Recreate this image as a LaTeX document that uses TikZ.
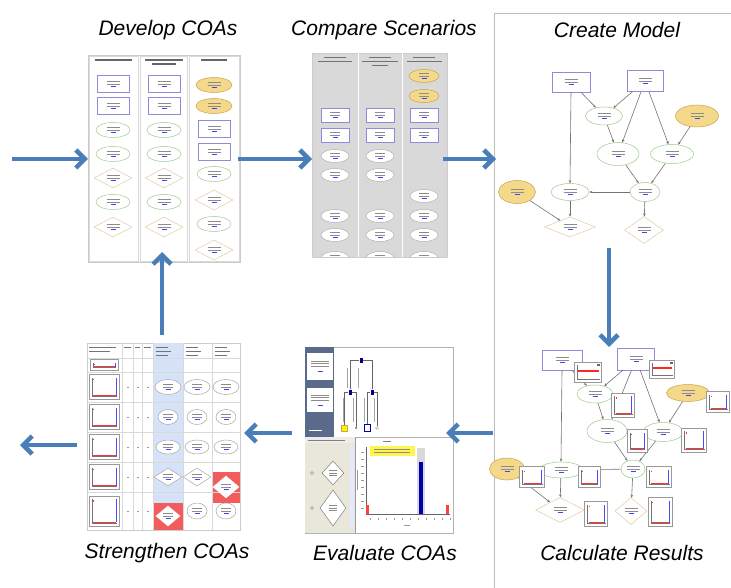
\documentclass[tikz,border=0pt]{standalone}
\usepackage{fontspec}
\setmainfont{Liberation Sans}
\usetikzlibrary{arrows.meta,shapes.geometric}
\definecolor{arrowblue}{HTML}{4A7EBB}
\definecolor{rectblue}{HTML}{8C8CD8}
\definecolor{ellgreen}{HTML}{9CCB8C}
\definecolor{yfill}{HTML}{F5D98A}
\definecolor{yline}{HTML}{C9A24A}
\definecolor{diaedge}{HTML}{E2CBA6}
\definecolor{panelgray}{HTML}{D9D9D9}
\definecolor{slate}{HTML}{5A6A8A}
\definecolor{beige}{HTML}{E9E7DA}
\definecolor{lightblue}{HTML}{D6E2F7}
\definecolor{redfill}{HTML}{F25C5C}
\newcommand\txl[1][13]{\textcolor{black!45}{\rule{#1pt}{0.45pt}}}
\newcommand\txb{\textcolor{blue!75}{\rule{5pt}{0.6pt}}}
\newcommand\nt{\txl\\\txl\\\txb}
\newcommand\ntt{\txl[10]\\\txl[10]\\\txb}
\tikzset{
  title/.style={font=\fontsize{21}{24}\selectfont\itshape, inner sep=0},
  bigarrow/.style={draw=arrowblue, line width=4.5pt, -{Straight Barb[length=9pt,width=18pt]}},
  tiny/.style={font=\fontsize{2}{2.6}\selectfont, align=center, inner sep=0.5pt, line width=0.5pt},
  rb/.style={tiny, rectangle, draw=rectblue, fill=white, minimum width=32, minimum height=17},
  ge/.style={tiny, ellipse, draw=ellgreen, fill=white, minimum width=34, minimum height=15},
  dm/.style={tiny, diamond, aspect=2, draw=diaedge, fill=white, minimum width=38, minimum height=20},
  ye/.style={tiny, ellipse, draw=yline, fill=yfill, minimum width=36, minimum height=15},
  rbs/.style={rb, minimum width=28, minimum height=14},
  ges/.style={tiny, ellipse, draw=black!30, fill=white, minimum width=28, minimum height=13},
  yes/.style={ye, minimum width=30, minimum height=13},
  sge/.style={tiny, ellipse, draw=black!35, fill=white},
  sdm/.style={tiny, diamond, aspect=1.4, draw=black!35, fill=white},
  thumb/.style={draw=black!20, fill=white, inner sep=0},
  hdr/.style={black!60, line width=1.1pt},
  gridline/.style={black!15, line width=0.4pt},
  gedge/.style={draw=black!55, line width=0.6pt, -{Stealth[length=3pt,width=2.5pt]}},
  mchart/.style={draw=black!40, fill=white, inner sep=0, line width=0.4pt, path picture={
    \draw[black!55, line width=0.3pt] ([shift={(3pt,-3pt)}]path picture bounding box.north west) |- ([shift={(-2pt,3pt)}]path picture bounding box.south east);
    \draw[red!80, line width=0.7pt] ([shift={(4pt,4pt)}]path picture bounding box.south west) -- ([shift={(-3pt,4pt)}]path picture bounding box.south east);
    \draw[blue!70, line width=0.5pt] ([shift={(-3pt,4pt)}]path picture bounding box.south east) -- ([shift={(-3pt,-3pt)}]path picture bounding box.north east);
    \fill[red!80] ([shift={(4pt,-4pt)}]path picture bounding box.north west) rectangle ++(1pt,-1.5pt);
  }},
  mchartr/.style={draw=black!40, fill=white, inner sep=0, line width=0.4pt, path picture={
    \draw[black!55, line width=0.3pt] ([shift={(3pt,-3pt)}]path picture bounding box.north west) |- ([shift={(-2pt,3pt)}]path picture bounding box.south east);
    \draw[red!85, line width=1.3pt] ([shift={(3pt,1pt)}]path picture bounding box.west) -- ([shift={(-3pt,1pt)}]path picture bounding box.east);
    \fill[black!60] ([shift={(-5pt,-2pt)}]path picture bounding box.north east) rectangle ++(3pt,-2pt);
  }},
  treenode/.style={fill=blue!55!black, minimum width=3, minimum height=5, inner sep=0},
  treeedge/.style={draw=black!60, line width=0.5pt},
}
\begin{document}
\begin{tikzpicture}[x=1pt,y=-1pt]
\useasboundingbox (0,0) rectangle (731,588);
\fill[white] (0,0) rectangle (731,588);

% panel line
\draw[black!25, line width=0.8pt] (494,588) -- (494,13) -- (731,13);

% titles
\node[title] (t1) at (168,30) {Develop COAs};
\node[title] (t2) at (384,30) {Compare Scenarios};
\node[title] (t3) at (617,30) {Create Model};
\node[title] (t4) at (167,553) {Strengthen COAs};
\node[title] (t5) at (385,553) {Evaluate COAs};
\node[title] (t6) at (622,553) {Calculate Results};

% ---------- Thumbnail 1: Develop COAs ----------
\node[thumb, minimum width=152, minimum height=207, anchor=north west] (th1) at (88,55) {};
\draw[gridline] (89,56) rectangle (138,261);
\draw[gridline] (140,56) rectangle (187,261);
\draw[gridline] (189,56) rectangle (239,261);
\draw[hdr] (95,60) -- (132,60);
\draw[hdr] (145,60) -- (183,60);
\draw[hdr] (152,64) -- (176,64);
\draw[hdr] (201,60) -- (227,60);
\foreach \n/\s/\y in {1/rb/84,2/rb/106,3/ge/130,4/ge/154,5/dm/178,6/ge/202,7/dm/227}{
  \node[\s] (da\n) at (113,\y) {\nt};
  \node[\s] (db\n) at (164,\y) {\nt};
}
\foreach \n/\s/\y in {1/ye/85,2/ye/106,3/rb/129,4/rb/152,5/ge/174,6/dm/200,7/ge/224,8/dm/250}{
  \node[\s] (dc\n) at (214,\y) {\nt};
}

% ---------- Thumbnail 2: Compare Scenarios ----------
\node[draw=black!20, fill=panelgray, minimum width=135, minimum height=204, anchor=north west, inner sep=0] (th2) at (312,53) {};
\draw[white, line width=1pt] (358,53) -- (358,257);
\draw[white, line width=1pt] (402,53) -- (402,257);
\draw[black!55, line width=0.8pt] (324,57) -- (346,57) (318,61) -- (352,61);
\draw[black!55, line width=0.8pt] (369,57) -- (391,57) (362,61) -- (398,61) (372,65) -- (388,65);
\draw[black!55, line width=0.8pt] (413,57) -- (435,57) (407,61) -- (442,61);
\begin{scope}
\clip (312,53) rectangle (447,257);
\foreach \n/\s/\y in {1/rbs/115,2/rbs/135,3/ges/156,4/ges/175,5/ges/216,6/ges/235,7/ges/258}{
  \node[\s] (ca\n) at (335,\y) {\ntt};
  \node[\s] (cb\n) at (380,\y) {\ntt};
}
\foreach \n/\s/\y in {1/yes/76,2/yes/96,3/rbs/115,4/rbs/135,5/ges/196,6/ges/216,7/ges/235,8/ges/258}{
  \node[\s] (cc\n) at (424,\y) {\ntt};
}
\end{scope}

% ---------- Thumbnail 3: Create Model ----------
\node[rb, minimum width=38, minimum height=20] (mA) at (571,82) {\nt};
\node[rb, minimum width=36, minimum height=21] (mB) at (645,81) {\nt};
\node[ge, minimum width=37, minimum height=18] (mC) at (604,116) {\nt};
\node[ye, minimum width=43, minimum height=22] (mD) at (697,116) {\nt};
\node[ge, minimum width=42, minimum height=23] (mE) at (618,154) {\nt};
\node[ge, minimum width=43, minimum height=19] (mF) at (672,154) {\nt};
\node[ge, minimum width=38, minimum height=17] (mG) at (570,192) {\nt};
\node[ge, minimum width=30, minimum height=19] (mH) at (645,192) {\nt};
\node[ye, minimum width=37, minimum height=23] (mI) at (517,192) {\nt};
\node[dm, minimum width=51, minimum height=20] (mJ) at (570,227) {\nt};
\node[dm, minimum width=39, minimum height=27] (mK) at (644,230) {\nt};
\draw[gedge] (mA) -- (mC);
\draw[gedge] (mB) -- (mC);
\draw[gedge] (mB) -- (mE);
\draw[gedge] (mB) -- (mF);
\draw[gedge] (mA.south) -- (mG.north);
\draw[gedge] (mC) -- (mE);
\draw[gedge] (mD) -- (mF);
\draw[gedge] (mE) -- (mH);
\draw[gedge] (mF) -- (mH);
\draw[gedge] (mH) -- (mG);
\draw[gedge] (mG) -- (mJ);
\draw[gedge] (mI) -- (mJ);
\draw[gedge] (mH) -- (mK);

% ---------- Thumbnail 4: Calculate Results ----------
\node[rb, minimum width=40, minimum height=20] (rA) at (562,360) {\nt};
\node[rb, minimum width=37, minimum height=22] (rB) at (636,359) {\nt};
\node[ge, minimum width=36, minimum height=18] (rC) at (595,394) {\nt};
\node[ye, minimum width=43, minimum height=17] (rD) at (688,393) {\nt};
\node[ge, minimum width=40, minimum height=23] (rE) at (607,431) {\nt};
\node[ge, minimum width=40, minimum height=19] (rF) at (663,432) {\nt};
\node[ge, minimum width=44, minimum height=16] (rG) at (561,470) {\nt};
\node[ge, minimum width=24, minimum height=18] (rH) at (633,469) {\nt};
\node[ye, minimum width=35, minimum height=22] (rI) at (507,469) {\nt};
\node[dm, minimum width=49, minimum height=25] (rJ) at (560,510) {\nt};
\node[dm, minimum width=32, minimum height=27] (rK) at (631,511) {\nt};
\draw[gedge] (rA) -- (rC);
\draw[gedge] (rB) -- (rC);
\draw[gedge] (rB) -- (rE);
\draw[gedge] (rB) -- (rF);
\draw[gedge] (rA.south) -- (rG.north);
\draw[gedge] (rC) -- (rE);
\draw[gedge] (rD) -- (rF);
\draw[gedge] (rE) -- (rH);
\draw[gedge] (rF) -- (rH);
\draw[gedge] (rH) -- (rG);
\draw[gedge] (rG) -- (rJ);
\draw[gedge] (rI) -- (rJ);
\draw[gedge] (rH) -- (rK);
\node[mchartr, minimum width=27, minimum height=20] (qA) at (588,372) {};
\node[mchartr, minimum width=25, minimum height=18] (qB) at (662,369) {};
\node[mchart, minimum width=23, minimum height=24] (qC) at (623,405) {};
\node[mchart, minimum width=23, minimum height=21] (qD) at (718,402) {};
\node[mchart, minimum width=20, minimum height=23] (qE) at (637,441) {};
\node[mchart, minimum width=25, minimum height=24] (qF) at (694,440) {};
\node[mchart, minimum width=22, minimum height=21] (qG) at (589,477) {};
\node[mchart, minimum width=25, minimum height=21] (qH) at (659,477) {};
\node[mchart, minimum width=25, minimum height=21] (qI) at (532,477) {};
\node[mchart, minimum width=23, minimum height=25] (qJ) at (596,514) {};
\node[mchart, minimum width=24, minimum height=29] (qK) at (660,512) {};

% ---------- Thumbnail 5: Evaluate COAs ----------
\node[thumb, draw=black!30, minimum width=148, minimum height=186, anchor=north west] (th5) at (305,347) {};
\fill[slate] (305,347) rectangle (334,437);
\node[tiny, rectangle, fill=white, minimum width=26, minimum height=27] (sb1) at (320,366) {\txl[18]\\\txl[18]\\\txl[18]\\\\\txb};
\node[tiny, rectangle, fill=white, minimum width=26, minimum height=24] (sb2) at (320,400) {\txl[18]\\\txl[18]\\\txl[18]\\\\\txb};
\draw[white, line width=0.6pt] (309,430) -- (322,430);
% tree
\node[treenode] (tr0) at (361,360) {};
\node[treenode] (tr1) at (350,392) {};
\node[treenode] (tr2) at (372,392) {};
\node[fill=yellow, draw=yellow!70!black, minimum size=6, inner sep=0] (tl1) at (344,428) {};
\node[fill=black!40, minimum size=2, inner sep=0] (tl2) at (356,428) {};
\node[draw=blue!70!black, fill=white, minimum width=6, minimum height=7, inner sep=0, line width=0.6pt] (tl3) at (367,428) {};
\node[circle, draw=black!30, minimum size=3, inner sep=0] (tl4) at (377,428) {};
\draw[treeedge] (tr0) -| (tr1);
\draw[treeedge] (tr0) -| (tr2);
\draw[treeedge] (tr1) -| (tl1);
\draw[treeedge] (tr1) -| (tl2);
\draw[treeedge] (tr2) -| (tl3);
\draw[treeedge] (tr2) -| (tl4);
\foreach \x/\a/\b in {347/368/388,358/368/388,343/398/422,353/398/422,364/398/422,374/398/422}{
  \draw[black!35, line width=0.4pt] (\x,\a) -- (\x,\b);
}
\draw[black!30] (305,437) -- (453,437);
% bottom left panel
\fill[beige] (305,437) rectangle (355,533);
\fill[beige!70!black!20] (305,437) rectangle (355,443);
\draw[black!50, line width=0.5pt] (308,440) -- (345,440);
\fill[lightblue!80!blue!30] (350,446) rectangle (354,528);
\node[sdm, draw=black!50, aspect=0.9, minimum width=22, minimum height=24] (ed1) at (333,473) {\txl[8]\\\txl[8]\\\txl[8]};
\node[sdm, draw=black!50, aspect=0.7, minimum width=26, minimum height=36] (ed2) at (333,508) {\txl[8]\\\txl[8]\\\txl[8]};
\node[circle, draw=black!40, minimum size=3, inner sep=0] (ec1) at (312,473) {};
\node[circle, draw=black!40, minimum size=3, inner sep=0] (ec2) at (312,508) {};
% bottom right chart
\draw[black!40, line width=0.4pt] (355,437) -- (355,533);
\fill[black!15] (417,448) rectangle (425,514);
\fill[blue!70!black] (419,462) rectangle (423,514);
\draw[black!60, line width=0.4pt] (366,447) -- (366,514) -- (450,514);
\foreach \y in {452,459,466,473,480,487,494,501,508}{ \draw[black!40, line width=0.3pt] (361,\y) -- (364,\y); }
\foreach \x in {370,378,386,394,402,410,418,426,434,442,450}{ \draw[black!40, line width=0.3pt] (\x,518) -- (\x,519.5); }
\draw[black!40, line width=0.3pt] (357,470) -- (357,490);
\draw[black!50, line width=0.4pt] (383,441) -- (391,441);
\draw[black!40, line width=0.3pt] (404,525) -- (410,525);
\node[fill=yellow!70, minimum width=45, minimum height=10, inner sep=0, tiny] (elab) at (392,451) {\txl[36]\\\txl[36]};
\fill[red!75] (366,505) rectangle (368.5,514);
\fill[red!75] (446,505) rectangle (448.5,514);

% ---------- Thumbnail 6: Strengthen COAs ----------
\node[thumb, minimum width=153, minimum height=187, anchor=north west] (th6) at (87,343) {};
\fill[lightblue] (153,343) rectangle (183,530);
\fill[redfill] (212,472) rectangle (240,503);
\fill[redfill] (154,503) rectangle (183,530);
\foreach \x in {122,133,142,153,183,212} \draw[gridline] (\x,343) -- (\x,530);
\foreach \y in {358,372,402,432,462,492} \draw[gridline] (87,\y) -- (240,\y);
\draw[black!55, line width=0.8pt] (89,347) -- (116,347) (89,351) -- (110,351);
\draw[black!55, line width=0.8pt] (124,347) -- (131,347) (135,347) -- (140,347) (144,347) -- (151,347);
\foreach \x in {156,186,215}{
  \draw[black!55, line width=0.8pt] (\x,347) -- ++(12,0) (\x,351) -- ++(15,0) (\x,355) -- ++(12,0);
}
\node[mchart, minimum width=28, minimum height=11] (s0) at (104,365) {};
\foreach \n/\y in {1/387,2/417,3/447,4/477}{
  \node[mchart, minimum width=30, minimum height=25] (sc\n) at (104,\y) {};
  \foreach \x in {127,137,147}{ \draw[black!40, line width=0.5pt] (\x,\y) -- ++(2,0); }
}
\node[mchart, minimum width=30, minimum height=30] (sc5) at (104,511) {};
\foreach \x in {127,137,147}{ \draw[black!40, line width=0.5pt] (\x,511) -- ++(2,0); }
\foreach \x/\c in {168/a,197/b,226/c}{
  \node[sge, minimum width=26, minimum height=15] (s1\c) at (\x,387) {\ntt};
  \node[sge, minimum width=20, minimum height=15] (s2\c) at (\x,417) {\ntt};
  \node[sge, minimum width=24, minimum height=14] (s3\c) at (\x,447) {\ntt};
}
\node[sdm, minimum width=28, minimum height=18] (s4a) at (168,477) {\ntt};
\node[sdm, minimum width=28, minimum height=18] (s4b) at (197,477) {\ntt};
\node[sdm, draw=white, minimum width=26, minimum height=22] (s4c) at (226,487) {\ntt};
\node[sdm, draw=white, minimum width=24, minimum height=20] (s5a) at (168,516) {\ntt};
\node[sge, minimum width=20, minimum height=16] (s5b) at (197,511) {\ntt};
\node[sge, minimum width=20, minimum height=16] (s5c) at (226,511) {\ntt};

% ---------- big blue arrows ----------
\coordinate (a1s) at (12,159);  \coordinate (a1e) at (88,159);
\coordinate (a2s) at (238,159); \coordinate (a2e) at (312,159);
\coordinate (a3s) at (443,159); \coordinate (a3e) at (496,159);
\coordinate (a4s) at (609,248); \coordinate (a4e) at (609,347);
\coordinate (a5s) at (493,433); \coordinate (a5e) at (446,433);
\coordinate (a6s) at (292,433); \coordinate (a6e) at (244,433);
\coordinate (a7s) at (77,445);  \coordinate (a7e) at (20,445);
\coordinate (a8s) at (162,335); \coordinate (a8e) at (162,252);
\draw[bigarrow] (a1s) -- (a1e);
\draw[bigarrow] (a2s) -- (a2e);
\draw[bigarrow] (a3s) -- (a3e);
\draw[bigarrow] (a4s) -- (a4e);
\draw[bigarrow] (a5s) -- (a5e);
\draw[bigarrow] (a6s) -- (a6e);
\draw[bigarrow] (a7s) -- (a7e);
\draw[bigarrow] (a8s) -- (a8e);
\end{tikzpicture}
\end{document}
